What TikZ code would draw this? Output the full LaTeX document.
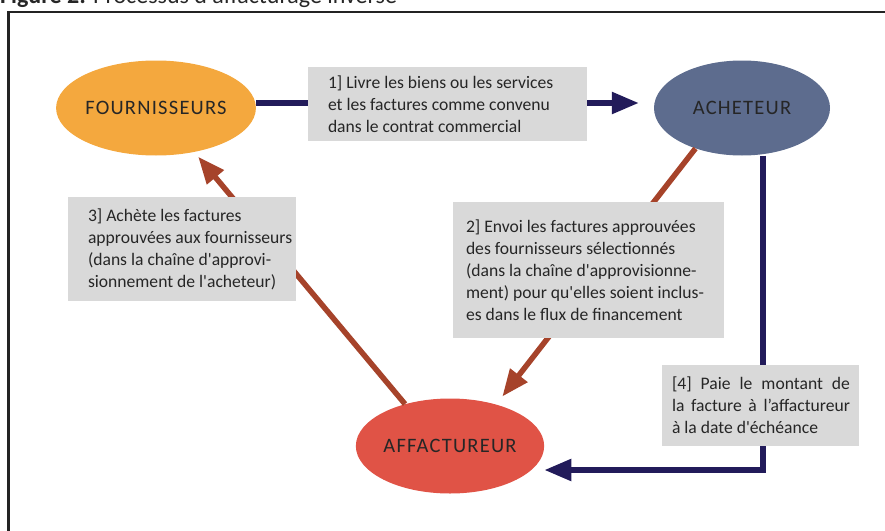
\documentclass[tikz,border=0pt]{standalone}
\usepackage{fontspec}
\setmainfont{Carlito}
\usetikzlibrary{arrows.meta,shapes.geometric}
\definecolor{navy}{RGB}{34,27,90}
\definecolor{rust}{RGB}{166,67,42}
\definecolor{orangefill}{RGB}{244,168,62}
\definecolor{slatefill}{RGB}{93,108,142}
\definecolor{redfill}{RGB}{224,83,70}
\definecolor{boxgray}{RGB}{217,217,217}
\definecolor{txt}{RGB}{38,38,38}
\definecolor{framec}{RGB}{35,35,35}
\begin{document}
\begin{tikzpicture}[x=1pt,y=-1pt,
  party/.style={ellipse, minimum width=176pt, minimum height=95pt, inner sep=0pt, text=txt,
    font=\fontsize{20.5}{24}\selectfont\addfontfeatures{LetterSpace=6}},
  boxbg/.style={fill=boxgray, inner sep=0pt},
  boxtxt/.style={text=txt, inner sep=0pt, align=left, anchor=west,
    font=\fontsize{17.6}{22}\selectfont},
  navyarrow/.style={draw=navy, line width=5.5pt, -{Triangle[length=27pt,width=21pt]}},
  rustarrow/.style={draw=rust, line width=5.5pt, -{Triangle[length=27pt,width=21pt]}}]
\useasboundingbox (0,0) rectangle (885,530);
% frame and title
\draw[framec, line width=2.5pt] (8.5,545) -- (8.5,12) -- (895,12);
\node[anchor=base west, inner sep=0pt, text=txt, font=\fontsize{24}{27}\selectfont] (title) at (0,4)
  {\textbf{Figure 2:} Processus d\textquotesingle affacturage inversé};
% parties
\node[party, fill=orangefill] (four) at (156,108) {FOURNISSEURS};
\node[party, fill=slatefill] (ach) at (742,108) {ACHETEUR};
\node[party, fill=redfill] (aff) at (450,446) {AFFACTUREUR};
% connectors
\draw[navyarrow, shorten >=15pt] ([yshift=5pt]four.east) -- ([yshift=5pt]ach.west);
\draw[rustarrow, shorten >=10pt] (ach.221.6) -- (aff.42.6);
\draw[rustarrow, shorten >=6pt] (aff.137.3) -- (four.311.6);
\draw[navyarrow] ([xshift=21pt]ach.south) |- ([yshift=-24pt]aff.east);
% labels
\node[boxbg, minimum width=279pt, minimum height=74pt] (b1) at (447.5,104) {};
\node[boxtxt] (b1t) at ([xshift=20pt]b1.west)
  {1] Livre les biens ou les services\\ et les factures comme convenu\\ dans le contrat commercial};
\node[boxbg, minimum width=271pt, minimum height=136pt] (b2) at (588.5,270) {};
\node[boxtxt] (b2t) at ([xshift=13pt]b2.west)
  {2] Envoi les factures approuvées\\ des fournisseurs sélectionnés\\ (dans la chaîne d\textquotesingle approvisionne-\\ ment) pour qu\textquotesingle elles soient inclus-\\ es dans le flux de financement};
\node[boxbg, minimum width=228pt, minimum height=104pt] (b3) at (182,249) {};
\node[boxtxt] (b3t) at ([xshift=20pt]b3.west)
  {3] Achète les factures\\ approuvées aux fournisseurs\\ (dans la chaîne d\textquotesingle approvi-\\ sionnement de l\textquotesingle acheteur)};
\node[boxbg, minimum width=197pt, minimum height=81pt] (b4) at (760.5,405.5) {};
\node[boxtxt] (b4t) at ([xshift=10pt]b4.west)
  {\makebox[178pt][s]{[4] Paie le montant de}\\ \makebox[178pt][s]{la facture à l’affactureur}\\ à la date d\textquotesingle échéance};
\end{tikzpicture}
\end{document}
